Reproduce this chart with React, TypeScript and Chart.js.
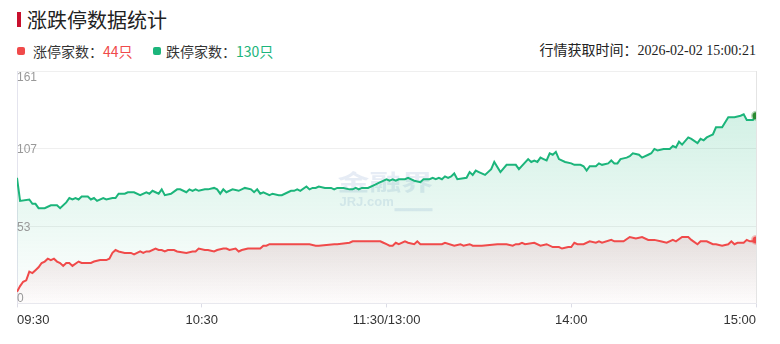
import React, { useEffect, useRef } from 'react';
import Chart from 'chart.js/auto';

const title = '涨跌停数据统计';
const upLabel = '涨停家数：';
const downLabel = '跌停家数：';
const upTotal = 44;
const downTotal = 130;
const timeLabel = '行情获取时间：';
const updateTime = '2026-02-02 15:00:21';

const xTickMinutes = [0, 60, 120, 180, 240];
const xTickLabels = ['09:30', '10:30', '11:30/13:00', '14:00', '15:00'];
const yTicks = [0, 53, 107, 161];
const yMax = 161;

// 跌停家数 (green) – minute index since 09:30 (trading minutes) and count
const downMinutes = [0, 1, 4, 5, 6, 7, 9, 11, 12, 13, 14, 16, 17, 18, 19, 20, 21, 23, 24, 25, 26, 28, 29, 31, 32, 33, 35, 36, 38, 40, 42, 43, 44, 45, 46, 47, 48, 50, 52, 53, 55, 56, 57, 58, 59, 61, 62, 64, 65, 66, 67, 68, 70, 72, 74, 76, 77, 78, 79, 80, 82, 83, 85, 86, 88, 89, 90, 91, 92, 94, 95, 96, 97, 98, 100, 101, 102, 103, 104, 106, 108, 109, 110, 111, 112, 114, 116, 117, 118, 120, 121, 122, 123, 124, 126, 127, 129, 131, 132, 134, 135, 136, 137, 138, 139, 140, 141, 142, 143, 146, 147, 148, 149, 150, 152, 154, 155, 157, 159, 162, 163, 166, 167, 168, 169, 170, 171, 172, 173, 174, 175, 176, 178, 180, 181, 183, 184, 185, 186, 188, 189, 190, 192, 193, 194, 195, 196, 198, 199, 200, 202, 203, 205, 206, 207, 208, 210, 212, 213, 214, 215, 216, 218, 219, 221, 222, 223, 224, 225, 226, 227, 229, 231, 233, 235, 236, 237, 239, 240];
const downCounts = [87, 71, 72, 69, 69, 66, 66, 68, 68, 68, 66, 70, 73, 72, 73, 72, 74, 74, 72, 73, 71, 73, 72, 73, 73, 76, 76, 77, 77, 75, 77, 76, 78, 77, 76, 79, 75, 76, 79, 79, 77, 79, 78, 79, 78, 79, 79, 80, 79, 76, 79, 77, 79, 78, 80, 79, 77, 79, 76, 77, 75, 76, 75, 75, 77, 78, 78, 79, 78, 81, 79, 80, 80, 81, 80, 80, 80, 79, 80, 80, 79, 79, 80, 79, 80, 80, 82, 83, 84, 86, 85, 86, 85, 86, 86, 87, 85, 84, 86, 86, 87, 86, 87, 86, 88, 87, 88, 90, 86, 87, 91, 89, 92, 91, 89, 93, 98, 91, 96, 96, 93, 100, 98, 99, 98, 101, 100, 99, 104, 103, 105, 100, 98, 97, 96, 96, 95, 92, 95, 95, 97, 96, 97, 99, 97, 97, 100, 101, 102, 104, 103, 101, 103, 104, 107, 106, 107, 107, 109, 108, 112, 110, 115, 114, 111, 114, 113, 115, 116, 117, 122, 122, 129, 129, 130, 131, 127, 127, 130];

// 涨停家数 (red)
const upMinutes = [0, 1, 2, 3, 4, 5, 6, 7, 8, 9, 10, 11, 12, 13, 14, 15, 16, 17, 18, 20, 21, 23, 24, 25, 27, 29, 30, 31, 32, 33, 35, 37, 38, 40, 41, 42, 43, 45, 46, 47, 48, 49, 51, 52, 55, 57, 58, 59, 61, 62, 64, 65, 67, 68, 69, 71, 72, 73, 75, 76, 79, 80, 81, 82, 84, 85, 95, 97, 98, 103, 104, 108, 109, 112, 113, 117, 118, 119, 120, 121, 122, 123, 124, 126, 127, 129, 130, 131, 138, 139, 142, 144, 145, 147, 148, 151, 156, 158, 159, 161, 162, 163, 164, 165, 168, 170, 172, 174, 176, 177, 179, 180, 181, 182, 184, 186, 188, 189, 190, 193, 194, 197, 199, 201, 203, 205, 207, 209, 211, 213, 214, 216, 218, 219, 221, 222, 224, 226, 227, 229, 231, 232, 233, 234, 236, 237, 238, 239, 240];
const upCounts = [8, 12, 15, 16, 22, 21, 23, 25, 28, 29, 31, 30, 31, 29, 28, 26, 28, 28, 26, 29, 28, 28, 28, 29, 30, 30, 31, 35, 37, 36, 35, 35, 34, 36, 35, 36, 36, 38, 37, 37, 36, 37, 37, 36, 35, 36, 36, 38, 37, 37, 36, 37, 38, 38, 37, 38, 36, 37, 38, 38, 38, 40, 40, 41, 41, 41, 41, 40, 40, 41, 41, 42, 43, 43, 43, 43, 43, 42, 41, 40, 40, 42, 41, 43, 42, 41, 43, 41, 41, 42, 40, 41, 40, 41, 40, 40, 41, 41, 41, 40, 41, 41, 42, 41, 42, 40, 41, 39, 39, 38, 39, 39, 42, 41, 41, 43, 42, 43, 42, 44, 43, 43, 46, 45, 46, 44, 44, 43, 42, 44, 43, 46, 46, 44, 41, 43, 43, 41, 41, 40, 41, 43, 41, 42, 42, 44, 43, 43, 44];

const RED = '#f04a4a';
const GREEN = '#1cb57b';
const SANS = '"Liberation Sans", Arial, sans-serif';
const CJK = '"Noto Sans CJK SC", "Noto Sans", sans-serif';

const yLabelPlugin = {
  id: 'yLabels',
  afterDatasetsDraw(chart: any) {
    const { ctx, chartArea, scales } = chart;
    const y = scales.y;
    ctx.save();
    ctx.font = '12px ' + SANS;
    ctx.fillStyle = '#999';
    ctx.textAlign = 'left';
    ctx.textBaseline = 'alphabetic';
    yTicks.forEach((v) => {
      const py = y.getPixelForValue(v);
      let by = py + 4.3;
      if (v === yMax) by = py + 9.6;
      else if (v === 0) by = py - 1.4;
      ctx.fillText(String(v), chartArea.left, by);
    });
    ctx.restore();
  },
};

const watermarkPlugin = {
  id: 'watermark',
  beforeDatasetsDraw(chart: any) {
    const { ctx, chartArea } = chart;
    const cx = (chartArea.left + chartArea.right) / 2;
    const cy = chartArea.top + (chartArea.bottom - chartArea.top) * 0.5;
    ctx.save();
    ctx.fillStyle = 'rgba(205,218,236,0.5)';
    ctx.textBaseline = 'middle';
    ctx.textAlign = 'left';
    ctx.save();
    ctx.translate(cx - 49, cy - 6);
    ctx.scale(1.45, 1);
    ctx.font = 'bold 22px ' + CJK;
    ctx.fillText('金融界', 0, 0);
    ctx.restore();
    ctx.font = 'bold 13px ' + SANS;
    ctx.fillText('JRJ.com', cx - 47, cy + 15);
    ctx.fillRect(cx + 8, cy + 21, 38, 3);
    ctx.restore();
  },
};

export default function App() {
  const canvasRef = useRef<HTMLCanvasElement | null>(null);

  useEffect(() => {
    if (!canvasRef.current) return;
    const toPoints = (xs: number[], ys: number[]) => xs.map((x, i) => ({ x, y: ys[i] }));
    const lastRadius = (c: any) => (c.dataIndex === c.dataset.data.length - 1 ? 3.5 : 0);

    const chart = new Chart(canvasRef.current, {
      type: 'line',
      data: {
        datasets: [
          {
            label: '涨停家数',
            data: toPoints(upMinutes, upCounts),
            borderColor: RED,
            borderWidth: 2,
            tension: 0,
            fill: 'origin',
            clip: 0,
            backgroundColor: (c: any) => {
              const ch = c.chart;
              const area = ch.chartArea;
              if (!area) return 'rgba(190,110,120,0.1)';
              const top = ch.scales.y.getPixelForValue(46);
              const g = ch.ctx.createLinearGradient(0, top, 0, area.bottom);
              g.addColorStop(0, 'rgba(190,110,120,0.2)');
              g.addColorStop(1, 'rgba(190,110,120,0.02)');
              return g;
            },
            pointRadius: lastRadius,
            pointHoverRadius: lastRadius,
            pointBackgroundColor: RED,
            pointBorderColor: 'rgba(240,74,74,0.35)',
            pointBorderWidth: 3,
          },
          {
            label: '跌停家数',
            data: toPoints(downMinutes, downCounts),
            borderColor: GREEN,
            borderWidth: 2,
            tension: 0,
            fill: 'origin',
            clip: 0,
            backgroundColor: (c: any) => {
              const ch = c.chart;
              const area = ch.chartArea;
              if (!area) return 'rgba(28,181,123,0.1)';
              const g = ch.ctx.createLinearGradient(0, area.top, 0, area.bottom);
              g.addColorStop(0, 'rgba(28,181,123,0.24)');
              g.addColorStop(1, 'rgba(28,181,123,0.0)');
              return g;
            },
            pointRadius: lastRadius,
            pointHoverRadius: lastRadius,
            pointBackgroundColor: '#2a8a30',
            pointBorderColor: 'rgba(42,138,48,0.35)',
            pointBorderWidth: 3,
          },
        ],
      },
      options: {
        animation: false,
        responsive: true,
        maintainAspectRatio: false,
        events: [],
        layout: { padding: { left: 17, right: 24, top: 9, bottom: 11 } },
        plugins: { legend: { display: false }, tooltip: { enabled: false } },
        scales: {
          x: {
            type: 'linear',
            min: 0,
            max: 240,
            afterBuildTicks: (s: any) => {
              s.ticks = xTickMinutes.map((v) => ({ value: v }));
            },
            ticks: {
              callback: (_v: any, i: number) => xTickLabels[i],
              align: 'inner',
              maxRotation: 0,
              minRotation: 0,
              autoSkip: false,
              padding: 5,
              color: '#333',
              font: { size: 13, family: SANS },
            },
            grid: {
              drawOnChartArea: true,
              color: (c: any) => (c.tick && c.tick.value === 240 ? '#e4e4e4' : 'rgba(0,0,0,0)'),
              tickColor: '#dcdce6',
              tickLength: 4,
              drawTicks: true,
            },
            border: { display: true, color: '#e8e8ee' },
          },
          y: {
            min: 0,
            max: yMax,
            afterBuildTicks: (s: any) => {
              s.ticks = yTicks.map((v) => ({ value: v }));
            },
            ticks: { display: false },
            grid: { color: '#efefef', drawTicks: false },
            border: { display: true, color: '#e4e4ee' },
          },
        },
      } as any,
      plugins: [watermarkPlugin, yLabelPlugin],
    });
    return () => chart.destroy();
  }, []);

  return (
    <div
      style={{
        position: 'fixed',
        left: 0,
        top: 0,
        width: 780,
        height: 344,
        background: '#fff',
        overflow: 'hidden',
        fontFamily: CJK,
      }}
    >
      <div style={{ position: 'absolute', left: 17, top: 12, width: 4, height: 15, background: '#c8102e' }} />
      <div
        style={{
          position: 'absolute',
          left: 27,
          top: 8,
          height: 24,
          lineHeight: '24px',
          fontSize: 20,
          color: '#222',
          whiteSpace: 'nowrap',
        }}
      >
        {title}
      </div>

      <div style={{ position: 'absolute', left: 17, top: 47, width: 8, height: 8, borderRadius: 2, background: RED }} />
      <div style={{ position: 'absolute', left: 33, top: 44, lineHeight: '14px', fontSize: 14, color: '#333', whiteSpace: 'nowrap' }}>
        {upLabel}
        <span style={{ color: RED }}>{upTotal}只</span>
      </div>

      <div style={{ position: 'absolute', left: 153, top: 47, width: 8, height: 8, borderRadius: 2, background: GREEN }} />
      <div style={{ position: 'absolute', left: 166, top: 44, lineHeight: '14px', fontSize: 14, color: '#333', whiteSpace: 'nowrap' }}>
        {downLabel}
        <span style={{ color: GREEN }}>{downTotal}只</span>
      </div>

      <div
        style={{
          position: 'absolute',
          right: 24,
          top: 44,
          lineHeight: '14px',
          fontSize: 14,
          color: '#222',
          whiteSpace: 'nowrap',
          fontFamily: '"Liberation Serif", "Noto Sans CJK SC", serif',
        }}
      >
        {timeLabel}
        {updateTime}
      </div>

      <div style={{ position: 'absolute', left: 0, top: 62, width: 780, height: 282 }}>
        <canvas ref={canvasRef} />
      </div>
    </div>
  );
}
